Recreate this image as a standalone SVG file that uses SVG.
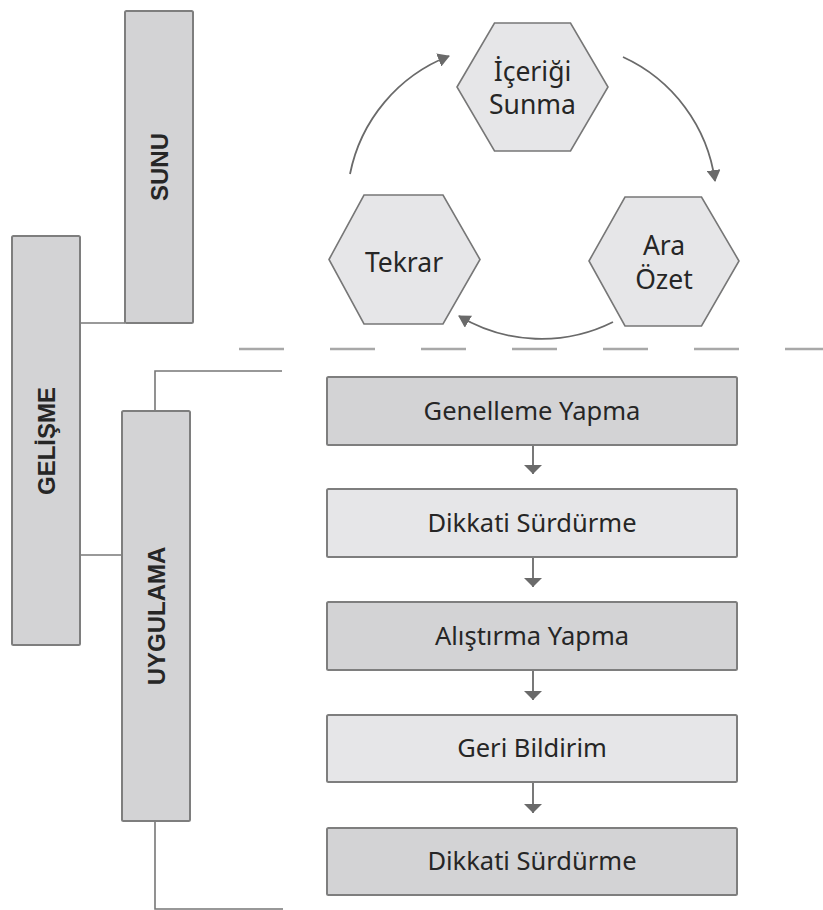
<svg xmlns="http://www.w3.org/2000/svg" width="823" height="910" viewBox="0 0 823 910">
  <defs>
    <style>
      .dark { fill: #d3d3d5; stroke: #7e7e7e; stroke-width: 2; }
      .light { fill: #e6e6e8; stroke: #7e7e7e; stroke-width: 2; }
      .hex { fill: #e6e6e8; stroke: #777777; stroke-width: 1.6; }
      .lbl { font-family: "Noto Sans", "Liberation Sans", sans-serif; font-size: 25.5px; fill: #262626; text-anchor: middle; }
      .hlbl { font-family: "Noto Sans", "Liberation Sans", sans-serif; font-size: 26.5px; fill: #262626; text-anchor: middle; }
      .vlbl { font-family: "Liberation Sans", Arial, sans-serif; font-size: 24px; font-weight: bold; fill: #262626; text-anchor: middle; }
      .tree { fill: none; stroke: #777777; stroke-width: 1.6; }
      .flow { fill: none; stroke: #6a6a6a; stroke-width: 1.8; marker-end: url(#ahV); }
      .cyc { fill: none; stroke: #6a6a6a; stroke-width: 1.8; marker-end: url(#ahC); }
      .dash { fill: none; stroke: #a8a8a8; stroke-width: 2.6; stroke-dasharray: 45 46; }
    </style>
    <marker id="ahV" markerUnits="userSpaceOnUse" markerWidth="9" markerHeight="18" refX="9" refY="9" orient="auto">
      <path d="M0,0 L9,9 L0,18 z" fill="#6a6a6a"/>
    </marker>
    <marker id="ahC" markerUnits="userSpaceOnUse" markerWidth="12" markerHeight="14" refX="11" refY="7" orient="auto">
      <path d="M0,0 L12,7 L0,14 z" fill="#6a6a6a"/>
    </marker>
  </defs>

  <g id="connectors">
    <line class="dash" x1="239" y1="349" x2="823" y2="349"/>
    <path class="tree" d="M80,323 H125"/>
    <path class="tree" d="M80,555 H122"/>
    <path class="tree" d="M155,411 V371 H282"/>
    <path class="tree" d="M155,821 V909 H283"/>
    <path class="cyc" d="M350,174 A160,160 0 0 1 449,56"/>
    <path class="cyc" d="M623,57 A160,160 0 0 1 715,181"/>
    <path class="cyc" d="M613,322 A160,160 0 0 1 459,316"/>
    <line class="flow" x1="533" y1="445" x2="533" y2="474"/>
    <line class="flow" x1="533" y1="557" x2="533" y2="587"/>
    <line class="flow" x1="533" y1="670" x2="533" y2="700"/>
    <line class="flow" x1="533" y1="782" x2="533" y2="813"/>
  </g>

  <g id="sunu">
    <rect class="dark" x="125" y="11" width="68" height="312" rx="1.5"/>
    <text class="vlbl" transform="translate(159,167) rotate(-90)" x="0" y="8.5">SUNU</text>
  </g>
  <g id="gelisme">
    <rect class="dark" x="12" y="236" width="68" height="409" rx="1.5"/>
    <text class="vlbl" transform="translate(46,441) rotate(-90)" x="0" y="8.5">GELİŞME</text>
  </g>
  <g id="uygulama">
    <rect class="dark" x="122" y="411" width="68" height="410" rx="1.5"/>
    <text class="vlbl" transform="translate(156,616) rotate(-90)" x="0" y="8.5">UYGULAMA</text>
  </g>

  <g id="icerigi-sunma">
    <polygon class="hex" points="457,87 494.5,23 570.5,23 608,87 570.5,151 494.5,151"/>
    <text class="hlbl" x="532.5" y="81">İçeriği</text>
    <text class="hlbl" x="532.5" y="114">Sunma</text>
  </g>
  <g id="tekrar">
    <polygon class="hex" points="329,259.5 364,195 443,195 480,259.5 443,324 364,324"/>
    <text class="hlbl" x="404" y="271.5">Tekrar</text>
  </g>
  <g id="ara-ozet">
    <polygon class="hex" points="589,261 625,197 701.5,197 739,261 701.5,326 625,326"/>
    <text class="hlbl" x="664" y="255">Ara</text>
    <text class="hlbl" x="664" y="289">Özet</text>
  </g>

  <g id="genelleme-yapma">
    <rect class="dark" x="327" y="377" width="410" height="68" rx="1.5"/>
    <text class="lbl" x="532" y="420">Genelleme Yapma</text>
  </g>
  <g id="dikkati-surdurme-1">
    <rect class="light" x="327" y="489" width="410" height="68" rx="1.5"/>
    <text class="lbl" x="532" y="532">Dikkati Sürdürme</text>
  </g>
  <g id="alistirma-yapma">
    <rect class="dark" x="327" y="602" width="410" height="68" rx="1.5"/>
    <text class="lbl" x="532" y="645">Alıştırma Yapma</text>
  </g>
  <g id="geri-bildirim">
    <rect class="light" x="327" y="715" width="410" height="67" rx="1.5"/>
    <text class="lbl" x="532" y="757">Geri Bildirim</text>
  </g>
  <g id="dikkati-surdurme-2">
    <rect class="dark" x="327" y="828" width="410" height="67" rx="1.5"/>
    <text class="lbl" x="532" y="870">Dikkati Sürdürme</text>
  </g>
</svg>
